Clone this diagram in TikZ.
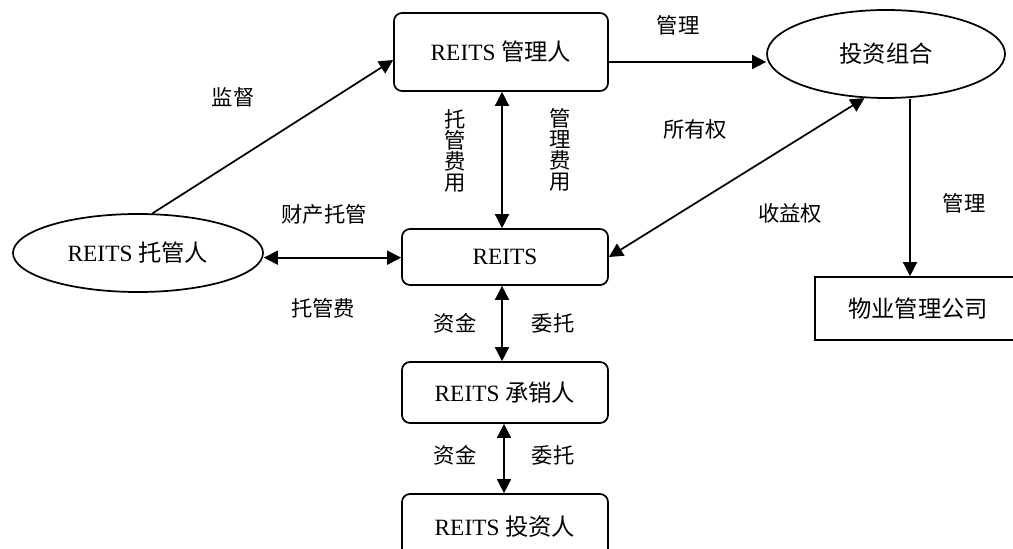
\documentclass[tikz,border=0pt]{standalone}
\usepackage{fontspec}
\setmainfont{Liberation Serif}
\newfontfamily\cjk{Noto Sans CJK SC}
\usetikzlibrary{arrows.meta,shapes.geometric}
\begin{document}
\begin{tikzpicture}[x=0.75pt,y=-0.75pt,
  line width=1.3pt,
  nodefont/.style={font=\fontsize{17.5}{20}\selectfont},
  rbox/.style={draw,rounded corners=6pt,inner sep=0pt,nodefont},
  pbox/.style={draw,inner sep=0pt,nodefont},
  ell/.style={draw,ellipse,inner sep=0pt,nodefont},
  lbl/.style={font=\cjk\fontsize{16}{16}\selectfont,inner sep=0pt},
  vlbl/.style={font=\cjk\fontsize{16}{15.75}\selectfont,align=center,inner sep=0pt},
  arr/.style={-{Triangle[length=10.5pt,width=10.5pt]}},
  darr/.style={{Triangle[length=10.5pt,width=10.5pt]}-{Triangle[length=10.5pt,width=10.5pt]}}]
\useasboundingbox (0,0) rectangle (1013,549);
\clip (0,0) rectangle (1013,549);
\fill[white] (0,0) rectangle (1013,549);
% nodes
\node[rbox,minimum width=160.5pt,minimum height=58.5pt] (mgr) at (501,52) {REITS {\cjk 管理人}};
\node[ell,minimum width=178.5pt,minimum height=66pt] (port) at (886,54) {\cjk 投资组合};
\node[ell,minimum width=187.5pt,minimum height=58.5pt] (cust) at (138,253) {REITS {\cjk 托管人}};
\node[rbox,minimum width=154.5pt,minimum height=42pt] (reits) at (505,257) {REITS};
\node[pbox,minimum width=154.5pt,minimum height=47.25pt] (prop) at (918,308.5) {\cjk 物业管理公司};
\node[rbox,minimum width=154.5pt,minimum height=45.75pt] (uw) at (505,392.5) {REITS {\cjk 承销人}};
\node[rbox,minimum width=154.5pt,minimum height=49.5pt] (inv) at (505,527) {REITS {\cjk 投资人}};
% connectors
\draw[arr] (cust.70) -- ([yshift=-6pt]mgr.west);
\draw[arr] ([yshift=-7.5pt]mgr.east) -- ([yshift=-7.5pt]mgr.east -| port.west);
\draw[darr] ([xshift=0.75pt]mgr.south) -- ([xshift=0.75pt]mgr.south |- reits.north);
\draw[darr] ([yshift=-3.5pt]cust.east) -- ([yshift=-3.5pt]cust.east -| reits.west);
\draw[darr] (port.244) -- (reits.east);
\draw[arr] ([xshift=18pt]port.south) -- ([xshift=18pt]port.south |- prop.north);
\draw[darr] ([xshift=-2.25pt]reits.south) -- ([xshift=-2.25pt]uw.north);
\draw[darr] ([xshift=-0.75pt]uw.south) -- ([xshift=-0.75pt]inv.north);
% labels
\node[lbl] (l1) at (233,97) {监督};
\node[lbl] (l2) at (678,25) {管理};
\node[vlbl] (l3) at (455,150.5) {托\\管\\费\\用};
\node[vlbl] (l4) at (560,150) {管\\理\\费\\用};
\node[lbl] (l5) at (695,129) {所有权};
\node[lbl] (l6) at (790,213) {收益权};
\node[lbl] (l7) at (964,203) {管理};
\node[lbl] (l8) at (324,214) {财产托管};
\node[lbl] (l9) at (323,308) {托管费};
\node[lbl] (l10) at (455,323) {资金};
\node[lbl] (l11) at (553,323) {委托};
\node[lbl] (l12) at (455,455) {资金};
\node[lbl] (l13) at (553,455) {委托};
\end{tikzpicture}
\end{document}
